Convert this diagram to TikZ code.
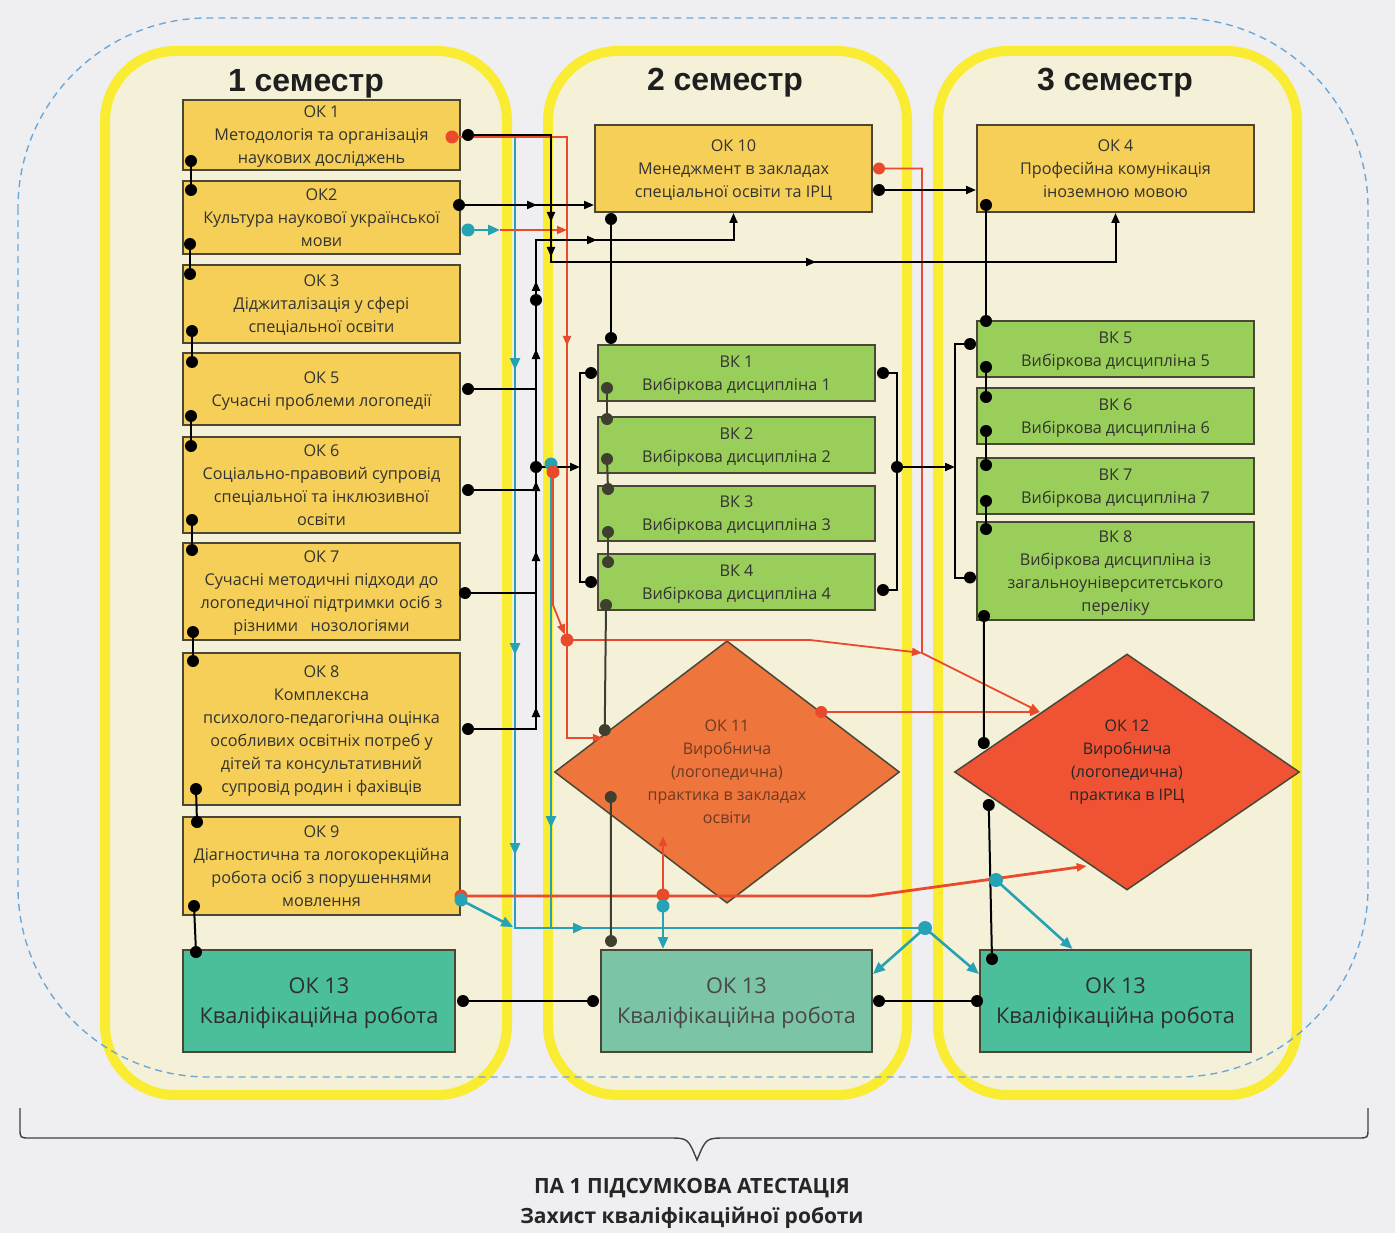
\documentclass[tikz,border=0pt]{standalone}
\usepackage{fontspec}
\setmainfont{Open Sans}
\newfontfamily\headfont{Liberation Sans}
\usetikzlibrary{shapes.geometric,arrows.meta,decorations.markings}

\definecolor{bgray}{HTML}{EFEFF1}
\definecolor{cream}{HTML}{F4F1D8}
\definecolor{lemon}{HTML}{F9EC33}
\definecolor{gold}{HTML}{F6CF58}
\definecolor{leaf}{HTML}{99CE5A}
\definecolor{tealA}{HTML}{4BBE9C}
\definecolor{tealB}{HTML}{7BC4A6}
\definecolor{orangeA}{HTML}{EE753C}
\definecolor{redA}{HTML}{EF5334}
\definecolor{wire}{HTML}{E84A2B}
\definecolor{sea}{HTML}{27A2B4}
\definecolor{rim}{HTML}{4A4738}
\definecolor{ink}{HTML}{333330}
\definecolor{bkdark}{HTML}{3F3F30}
\definecolor{rust}{HTML}{6E3A22}
\definecolor{dashblue}{HTML}{6AA8DA}

\tikzset{
  basebox/.style={draw=rim, line width=2pt, inner sep=0pt, align=center, text=ink,
    font=\fontsize{16.2}{23}\selectfont, text depth=-2pt},
  okbox/.style={basebox, fill=gold, minimum width=277pt},
  bkbox/.style={basebox, fill=leaf, minimum width=277pt, minimum height=56pt},
  finbox/.style={basebox, minimum width=271pt, minimum height=102pt,
    font=\fontsize{21.7}{30}\selectfont, text depth=-4pt},
  prac/.style={diamond, draw=rim, line width=1.5pt, inner sep=0pt, align=center,
    minimum width=345pt, minimum height=236pt, font=\fontsize{16}{23}\selectfont},
  semcol/.style={draw=lemon, line width=10pt, fill=cream, rounded corners=70pt},
  semhead/.style={font=\headfont\bfseries\fontsize{32}{36}\selectfont, text=black!88},
  link/.style={line width=2pt, black},
  redline/.style={line width=1.8pt, wire},
  tealline/.style={line width=2.6pt, sea},
  endtip/.style={-{Triangle[length=10pt,width=8pt]}},
  endtipT/.style={-{Triangle[length=12pt,width=10pt]}},
  midtip/.style={postaction={decorate,decoration={markings,
    mark=at position #1 with {\arrow{Triangle[length=10pt,width=8pt]}}}}},
  midtipT/.style={postaction={decorate,decoration={markings,
    mark=at position #1 with {\arrow{Triangle[length=12pt,width=10pt]}}}}},
}

\begin{document}
\begin{tikzpicture}[x=1pt,y=-1pt]
  \fill[bgray] (0,0) rectangle (1395,1233);
  \useasboundingbox (0,0) rectangle (1395,1233);

  % semesters
  \draw[semcol] (105,51) rectangle (507,1095);
  \draw[semcol] (548,51) rectangle (907,1095);
  \draw[semcol] (938,51) rectangle (1297,1095);
  \draw[dashblue, line width=1.4pt, dash pattern=on 7pt off 5pt, rounded corners=190pt]
    (18,18) rectangle (1368,1077);

  \node[semhead] (s1) at (306,84) {1 семестр};
  \node[semhead] (s2) at (725,83) {2 семестр};
  \node[semhead] (s3) at (1115,83) {3 семестр};

  % column 1
  \node[okbox, minimum height=70pt] (ok1) at (321.5,135) {ОК 1\\Методологія та організація\\наукових досліджень};
  \node[okbox, minimum height=73pt] (ok2) at (321.5,217.5) {ОК2\\Культура наукової української\\мови};
  \node[okbox, minimum height=78pt] (ok3) at (321.5,304) {ОК 3\\Діджиталізація у сфері\\спеціальної освіти};
  \node[okbox, minimum height=72pt] (ok5) at (321.5,389) {ОК 5\\Сучасні проблеми логопедії};
  \node[okbox, minimum height=96pt] (ok6) at (321.5,485) {ОК 6\\Соціально-правовий супровід\\спеціальної та інклюзивної\\освіти};
  \node[okbox, minimum height=97pt] (ok7) at (321.5,591.5) {ОК 7\\Сучасні методичні підходи до\\логопедичної підтримки осіб з\\різними~~~нозологіями};
  \node[okbox, minimum height=152pt] (ok8) at (321.5,729) {ОК 8\\Комплексна\\психолого-педагогічна оцінка\\особливих освітніх потреб у\\дітей та консультативний\\супровід родин і фахівців};
  \node[okbox, minimum height=98pt] (ok9) at (321.5,866) {ОК 9\\Діагностична та логокорекційна\\робота осіб з порушеннями\\мовлення};
  \node[finbox, fill=tealA, minimum width=272pt, text=black!82] (ok13a) at (319,1001) {ОК 13\\Кваліфікаційна робота};

  % column 2
  \node[okbox, minimum height=87pt] (ok10) at (733.5,168.5) {ОК 10\\Менеджмент в закладах\\спеціальної освіти та ІРЦ};
  \node[bkbox] (bk1) at (736.5,373) {ВК 1\\Вибіркова дисципліна 1};
  \node[bkbox] (bk2) at (736.5,445) {ВК 2\\Вибіркова дисципліна 2};
  \node[bkbox, minimum height=55pt] (bk3) at (736.5,513.5) {ВК 3\\Вибіркова дисципліна 3};
  \node[bkbox] (bk4) at (736.5,582) {ВК 4\\Вибіркова дисципліна 4};
  \node[prac, fill=orangeA, text=rust] (ok11) at (727,772) {ОК 11\\Виробнича\\(логопедична)\\практика в закладах\\освіти};
  \node[finbox, fill=tealB, text=black!72] (ok13b) at (736.5,1001) {ОК 13\\Кваліфікаційна робота};

  % column 3
  \node[okbox, minimum height=87pt] (ok4) at (1115.5,168.5) {ОК 4\\Професійна комунікація\\іноземною мовою};
  \node[bkbox] (bk5) at (1115.5,349) {ВК 5\\Вибіркова дисципліна 5};
  \node[bkbox] (bk6) at (1115.5,416) {ВК 6\\Вибіркова дисципліна 6};
  \node[bkbox] (bk7) at (1115.5,486) {ВК 7\\Вибіркова дисципліна 7};
  \node[bkbox, minimum height=98pt] (bk8) at (1115.5,571) {ВК 8\\Вибіркова дисципліна із\\загальноуніверситетського\\переліку};
  \node[prac, fill=redA, text=black!85] (ok12) at (1127,772) {ОК 12\\Виробнича\\(логопедична)\\практика в ІРЦ\\\mbox{}};
  \node[finbox, fill=tealA, text=black!82] (ok13c) at (1115.5,1001) {ОК 13\\Кваліфікаційна робота};

  % dots of column 1
  \coordinate (c1a) at ([xshift=9pt,yshift=10pt]ok1.south west);
  \coordinate (c1b) at ([xshift=9pt,yshift=-10pt]ok2.north west);
  \coordinate (c2a) at ([xshift=8pt,yshift=11pt]ok2.south west);
  \coordinate (c2b) at ([xshift=8pt,yshift=-10pt]ok3.north west);
  \coordinate (c3a) at ([xshift=10pt,yshift=13pt]ok3.south west);
  \coordinate (c3b) at ([xshift=10pt,yshift=-10pt]ok5.north west);
  \coordinate (c5a) at ([xshift=9pt,yshift=10pt]ok5.south west);
  \coordinate (c5b) at ([xshift=9pt,yshift=-10pt]ok6.north west);
  \coordinate (c6a) at ([xshift=10pt,yshift=14pt]ok6.south west);
  \coordinate (c6b) at ([xshift=10pt,yshift=-8pt]ok7.north west);
  \coordinate (c7a) at ([xshift=11pt,yshift=9pt]ok7.south west);
  \coordinate (c7b) at ([xshift=11pt,yshift=-9pt]ok8.north west);
  \coordinate (c8a) at ([xshift=14pt,yshift=17pt]ok8.south west);
  \coordinate (c8b) at ([xshift=15pt,yshift=-6pt]ok9.north west);
  \coordinate (c9a) at ([xshift=12pt,yshift=10pt]ok9.south west);
  \coordinate (c9b) at ([xshift=14pt,yshift=-3pt]ok13a.north west);
  \coordinate (o1k) at ([xshift=7pt]ok1.east);
  \coordinate (o1r) at ([xshift=-9pt,yshift=-2pt]ok1.east);
  \coordinate (o2k) at ([xshift=-2pt,yshift=12.5pt]ok2.east);
  \coordinate (o2t) at ([xshift=7pt,yshift=-12.5pt]ok2.east);
  \coordinate (o5) at ([xshift=7pt]ok5.east);
  \coordinate (o6) at ([xshift=7pt,yshift=-5pt]ok6.east);
  \coordinate (o7) at ([xshift=4pt,yshift=-1.5pt]ok7.east);
  \coordinate (o8) at ([xshift=7pt]ok8.east);
  \coordinate (o9r) at ([yshift=-30pt]ok9.east);
  \coordinate (o9t) at ([yshift=-34pt]ok9.east);
  \coordinate (f1e) at ([xshift=7pt]ok13a.east);

  % dots of column 2
  \coordinate (o10r) at ([xshift=6pt]ok10.east);
  \coordinate (o10k) at ([xshift=6pt,yshift=-21.5pt]ok10.east);
  \coordinate (d10) at ([xshift=17pt,yshift=-6pt]ok10.south west);
  \coordinate (t1) at ([xshift=14pt,yshift=6pt]bk1.north west);
  \coordinate (b1l) at ([xshift=-6pt]bk1.west);
  \coordinate (b1r) at ([xshift=7pt]bk1.east);
  \coordinate (b4l) at ([xshift=-6pt]bk4.west);
  \coordinate (b4r) at ([xshift=7pt,yshift=-8pt]bk4.east);
  \coordinate (b1d) at ([xshift=10pt,yshift=14pt]bk1.south west);
  \coordinate (b2u) at ([xshift=10pt,yshift=-3pt]bk2.north west);
  \coordinate (b2d) at ([xshift=10pt,yshift=15pt]bk2.south west);
  \coordinate (b3u) at ([xshift=11pt,yshift=-4pt]bk3.north west);
  \coordinate (b3d) at ([xshift=11pt,yshift=10pt]bk3.south west);
  \coordinate (b4u) at ([xshift=11pt,yshift=-9pt]bk4.north west);
  \coordinate (b4d) at ([xshift=9pt,yshift=6pt]bk4.south west);
  \coordinate (p11a) at ([xshift=51pt,yshift=42pt]ok11.west);
  \coordinate (p11b) at ([xshift=57pt,yshift=-25pt]ok11.west);
  \coordinate (p11r) at ([xshift=49pt,yshift=34pt]ok11.west);
  \coordinate (p11d) at ([xshift=-79pt,yshift=60pt]ok11.east);
  \coordinate (f2u) at ([xshift=11pt,yshift=8pt]ok13b.north west);
  \coordinate (f2w) at ([xshift=-7pt]ok13b.west);
  \coordinate (f2e) at ([xshift=6pt]ok13b.east);

  % dots of column 3
  \coordinate (t4) at ([xshift=10pt,yshift=8pt]ok4.south west);
  \coordinate (b5u) at ([xshift=10pt,yshift=-1pt]bk5.north west);
  \coordinate (b5l) at ([xshift=-6pt,yshift=5pt]bk5.west);
  \coordinate (b5d) at ([xshift=10pt,yshift=11pt]bk5.south west);
  \coordinate (b6u) at ([xshift=10pt,yshift=-10pt]bk6.north west);
  \coordinate (b6d) at ([xshift=10pt,yshift=14pt]bk6.south west);
  \coordinate (b7u) at ([xshift=10pt,yshift=-8pt]bk7.north west);
  \coordinate (b7d) at ([xshift=10pt,yshift=14pt]bk7.south west);
  \coordinate (b8u) at ([xshift=10pt,yshift=-8pt]bk8.north west);
  \coordinate (b8l) at ([xshift=-6pt,yshift=-6.5pt]bk8.west);
  \coordinate (b8d) at ([xshift=8pt,yshift=5pt]bk8.south west);
  \coordinate (p12a) at ([xshift=30pt,yshift=29pt]ok12.west);
  \coordinate (p12b) at ([xshift=35pt,yshift=-33pt]ok12.west);
  \coordinate (p12r) at ([xshift=86pt,yshift=60pt]ok12.west);
  \coordinate (p12s) at ([xshift=133pt,yshift=-94pt]ok12.west);
  \coordinate (f3u) at ([xshift=13pt,yshift=-10pt]ok13c.north west);
  \coordinate (f3w) at ([xshift=-2pt]ok13c.west);

  % bends
  \coordinate (busT) at (515,0);
  \coordinate (busC) at (536,0);
  \coordinate (busK) at (551,0);
  \coordinate (busR) at (567,0);
  \coordinate (brkL) at (580,0);
  \coordinate (brkR) at (897,0);
  \coordinate (busQ) at (922,0);
  \coordinate (brkM) at (955,0);
  \coordinate (swap) at (500,0);
  \coordinate (rowU) at (0,240);
  \coordinate (rowH) at (0,262);
  \coordinate (rowS) at (0,300);
  \coordinate (rowJ) at (0,467);
  \coordinate (rowP) at (0,640);
  \coordinate (rowT) at (0,928);
  \coordinate (q2t) at (551,464);
  \coordinate (q2r) at (553,472);
  \coordinate (rkink) at (553,605);
  \coordinate (rbend) at (810,640);
  \coordinate (rmeet) at (922,653);
  \coordinate (rknee) at (870,896);
  \coordinate (mid9) at (663,895);
  \coordinate (mid9t) at (663,906);
  \coordinate (r11in) at (663,836);
  \coordinate (tjoin) at (925,928);
  \coordinate (tx) at (996,880);

  % teal wires
  \draw[tealline, midtipT=235pt, midtipT=520pt, midtipT=720pt, midtipT=863pt]
    (busT |- o1k) -- (busT |- rowT) -- (tjoin);
  \draw[tealline, midtipT=364pt] (q2t) -- (busK |- rowT);
  \draw[tealline, endtipT, shorten >=2pt] (o9t) -- (busT |- rowT);
  \draw[tealline, endtipT] (o2t) -- (swap |- o2t);
  \draw[tealline, endtipT] (tjoin) -- ([yshift=-25pt]ok13b.north east);
  \draw[tealline, endtipT] (tjoin) -- ([yshift=-25pt]ok13c.north west);
  \draw[tealline, endtipT] (mid9t) -- (mid9t |- ok13b.north);
  \draw[tealline, endtipT] (tx) -- ([xshift=-43pt]ok13c.north);

  % red wires
  \draw[redline, midtip=324pt, endtip] (o1r) -- (o1r -| busR) -- (busR |- p11r) -- (p11r);
  \draw[redline, endtip] (swap |- o2t) -- (busR |- o2t);
  \draw[redline, endtip, shorten >=6pt] (q2r) -- (rkink) -- (busR |- rowP);
  \draw[redline, endtip] (busR |- rowP) -- (rbend) -- (rmeet);
  \draw[redline, endtip] (o10r) -- (o10r -| busQ) -- (rmeet) -- (p12r);
  \draw[redline, endtip] (p11d) -- (p12r);
  \draw[redline, line width=2.8pt, endtip] (o9r) -- (rknee) -- (p12s);
  \draw[redline, line width=2.8pt, endtip] (mid9) -- (r11in);

  % black wires
  \draw[link, midtip=170pt, midtip=205pt, midtip=475pt, endtip]
    (o1k) -- (o1k -| busK) -- (busK |- rowH) -- (ok4.south |- rowH) -- (ok4.south);
  \draw[link, midtip=78pt, endtip] (o2k) -- (o2k -| ok10.west);
  \draw[link, midtip=90pt, midtip=246pt, midtip=316pt, midtip=448pt, midtip=516pt, midtip=618pt, endtip]
    (o8) -- (o8 -| busC) -- (busC |- rowU) -- (ok10.south |- rowU) -- (ok10.south);
  \draw[link] (o5) -- (o5 -| busC);
  \draw[link] (o6) -- (o6 -| busC);
  \draw[link] (o7) -- (o7 -| busC);
  \draw[link, endtip] (busC |- rowJ) -- (brkL |- rowJ);
  \draw[link] (b1l) -- (b1l -| brkL) -- (brkL |- b4l) -- (b4l);
  \draw[link] (b1r) -- (b1r -| brkR) -- (brkR |- b4r) -- (b4r);
  \draw[link, endtip] (brkR |- rowJ) -- (brkM |- rowJ);
  \draw[link] (b5l) -- (b5l -| brkM) -- (brkM |- b8l) -- (b8l);
  \draw[link, endtip] (o10k) -- (o10k -| ok4.west);
  \draw[link] (d10) -- (t1);
  \draw[link] (f1e) -- (f2w);
  \draw[link] (f2e) -- (f3w);
  \draw[link] (c1a) -- (c1b);
  \draw[link] (c2a) -- (c2b);
  \draw[link] (c3a) -- (c3b);
  \draw[link] (c5a) -- (c5b);
  \draw[link] (c6a) -- (c6b);
  \draw[link] (c7a) -- (c7b);
  \draw[link] (c8a) -- (c8b);
  \draw[link] (c9a) -- (c9b);
  \draw[link] (t4) -- (b5u);
  \draw[link] (b5d) -- (b6u);
  \draw[link] (b6d) -- (b7u);
  \draw[link] (b7d) -- (b8u);
  \draw[link] (b8d) -- (p12a);
  \draw[link] (p12b) -- (f3u);
  \draw[link, bkdark] (b1d) -- (b2u);
  \draw[link, bkdark] (b2d) -- (b3u);
  \draw[link, bkdark] (b3d) -- (b4u);
  \draw[link, bkdark] (b4d) -- (p11a);
  \draw[link, bkdark] (p11b) -- (f2u);

  % dots
  \fill[black] (c1a) circle[radius=6pt] (c1b) circle[radius=6pt] (c2a) circle[radius=6pt]
    (c2b) circle[radius=6pt] (c3a) circle[radius=6pt] (c3b) circle[radius=6pt]
    (c5a) circle[radius=6pt] (c5b) circle[radius=6pt] (c6a) circle[radius=6pt]
    (c6b) circle[radius=6pt] (c7a) circle[radius=6pt] (c7b) circle[radius=6pt]
    (c8a) circle[radius=6pt] (c8b) circle[radius=6pt] (c9a) circle[radius=6pt]
    (c9b) circle[radius=6pt] (o1k) circle[radius=6pt] (o2k) circle[radius=6pt]
    (o5) circle[radius=6pt] (o6) circle[radius=6pt] (o7) circle[radius=6pt]
    (o8) circle[radius=6pt] (f1e) circle[radius=6pt] (f2w) circle[radius=6pt]
    (f2e) circle[radius=6pt] (f3w) circle[radius=6pt] (o10k) circle[radius=6pt]
    (d10) circle[radius=6pt] (t1) circle[radius=6pt] (b1l) circle[radius=6pt]
    (b1r) circle[radius=6pt] (b4l) circle[radius=6pt] (b4r) circle[radius=6pt]
    (busC |- rowS) circle[radius=6pt] (busC |- rowJ) circle[radius=6pt]
    (brkR |- rowJ) circle[radius=6pt] (t4) circle[radius=6pt] (b5u) circle[radius=6pt]
    (b5l) circle[radius=6pt] (b5d) circle[radius=6pt] (b6u) circle[radius=6pt]
    (b6d) circle[radius=6pt] (b7u) circle[radius=6pt] (b7d) circle[radius=6pt]
    (b8u) circle[radius=6pt] (b8l) circle[radius=6pt] (b8d) circle[radius=6pt]
    (p12a) circle[radius=6pt] (p12b) circle[radius=6pt] (f3u) circle[radius=6pt];
  \fill[bkdark] (b1d) circle[radius=6pt] (b2u) circle[radius=6pt] (b2d) circle[radius=6pt]
    (b3u) circle[radius=6pt] (b3d) circle[radius=6pt] (b4u) circle[radius=6pt]
    (b4d) circle[radius=6pt] (p11a) circle[radius=6pt] (p11b) circle[radius=6pt]
    (f2u) circle[radius=6pt];
  \fill[sea] (o2t) circle[radius=6.5pt] (q2t) circle[radius=6.5pt];
  \fill[wire] (o1r) circle[radius=6.5pt] (q2r) circle[radius=6.5pt] (busR |- rowP) circle[radius=6.5pt]
    (o10r) circle[radius=6pt] (p11d) circle[radius=6pt] (o9r) circle[radius=6.5pt]
    (mid9) circle[radius=6.5pt];
  \fill[sea] (o9t) circle[radius=6.5pt] (mid9t) circle[radius=6.5pt] (tjoin) circle[radius=7pt]
    (tx) circle[radius=7pt];

  % brace and final attestation
  \draw[line width=1.4pt, black!75] (20,1108) -- (20,1128) .. controls (20,1138) .. (30,1138)
    -- (668,1138) .. controls (688,1138) .. (697,1160) .. controls (706,1138) .. (726,1138)
    -- (1358,1138) .. controls (1368,1138) .. (1368,1128) -- (1368,1108);
  \node[font=\bfseries\fontsize{21}{24}\selectfont, text=black!85] (pa) at (692,1188) {ПА 1 ПІДСУМКОВА АТЕСТАЦІЯ};
  \node[font=\bfseries\fontsize{21}{24}\selectfont, text=black!85] (zk) at (692,1218) {Захист кваліфікаційної роботи};
\end{tikzpicture}
\end{document}
